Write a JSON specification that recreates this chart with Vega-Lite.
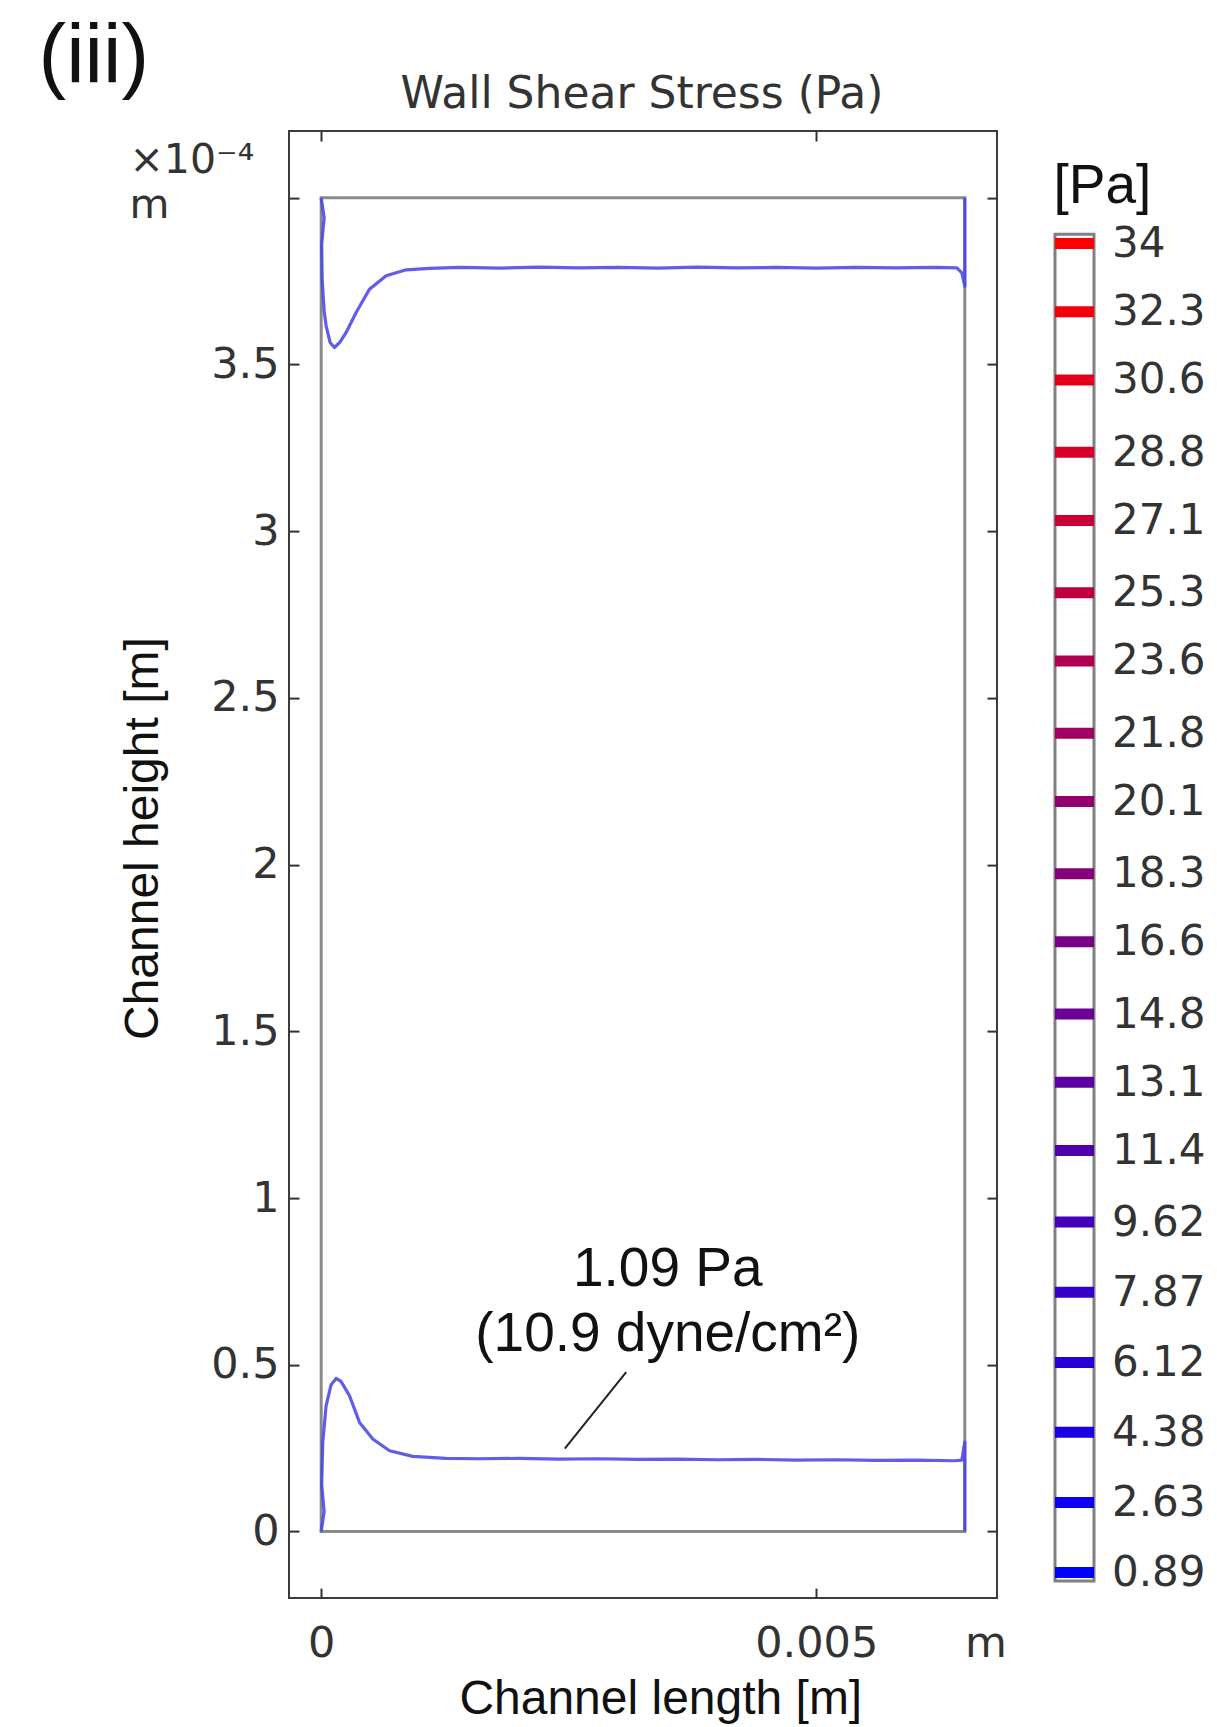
{
  "$schema": "https://vega.github.io/schema/vega-lite/v6.json",
  "background": "white",
  "padding": {"left": 37, "top": 15.1, "right": 10, "bottom": 4},
  "config": {"view": {"stroke": null}, "font": "DejaVu Sans"},
  "spacing": 45,
  "datasets": {
    "channel": [{"part": "channel", "inlet": 0, "outlet": 0.0065, "floor": 0, "ceiling": 4}],
    "wss": [
      {"wall": "top", "i": 0, "x": 0, "y": 4.0},
      {"wall": "top", "i": 1, "x": 0.00003, "y": 3.94},
      {"wall": "top", "i": 2, "x": 0.000005, "y": 3.86},
      {"wall": "top", "i": 3, "x": 0.00001, "y": 3.756},
      {"wall": "top", "i": 4, "x": 0.00003, "y": 3.66},
      {"wall": "top", "i": 5, "x": 0.00005, "y": 3.616},
      {"wall": "top", "i": 6, "x": 0.00009, "y": 3.566},
      {"wall": "top", "i": 7, "x": 0.000134, "y": 3.551},
      {"wall": "top", "i": 8, "x": 0.00019, "y": 3.567},
      {"wall": "top", "i": 9, "x": 0.000252, "y": 3.596},
      {"wall": "top", "i": 10, "x": 0.000353, "y": 3.656},
      {"wall": "top", "i": 11, "x": 0.000488, "y": 3.726},
      {"wall": "top", "i": 12, "x": 0.000656, "y": 3.766},
      {"wall": "top", "i": 13, "x": 0.000858, "y": 3.784},
      {"wall": "top", "i": 14, "x": 0.001094, "y": 3.788},
      {"wall": "top", "i": 15, "x": 0.0014, "y": 3.791},
      {"wall": "top", "i": 16, "x": 0.0018, "y": 3.789},
      {"wall": "top", "i": 17, "x": 0.0022, "y": 3.792},
      {"wall": "top", "i": 18, "x": 0.0026, "y": 3.790},
      {"wall": "top", "i": 19, "x": 0.003, "y": 3.791},
      {"wall": "top", "i": 20, "x": 0.0034, "y": 3.789},
      {"wall": "top", "i": 21, "x": 0.0038, "y": 3.792},
      {"wall": "top", "i": 22, "x": 0.0042, "y": 3.790},
      {"wall": "top", "i": 23, "x": 0.0046, "y": 3.791},
      {"wall": "top", "i": 24, "x": 0.005, "y": 3.789},
      {"wall": "top", "i": 25, "x": 0.0054, "y": 3.791},
      {"wall": "top", "i": 26, "x": 0.0058, "y": 3.790},
      {"wall": "top", "i": 27, "x": 0.0062, "y": 3.791},
      {"wall": "top", "i": 28, "x": 0.00642, "y": 3.790},
      {"wall": "top", "i": 29, "x": 0.00647, "y": 3.775},
      {"wall": "top", "i": 30, "x": 0.0065, "y": 3.735},
      {"wall": "top", "i": 31, "x": 0.0065, "y": 4.0},
      {"wall": "bottom", "i": 0, "x": 0, "y": 0},
      {"wall": "bottom", "i": 1, "x": 0.00003, "y": 0.06},
      {"wall": "bottom", "i": 2, "x": 0.000005, "y": 0.14},
      {"wall": "bottom", "i": 3, "x": 0.000016, "y": 0.268},
      {"wall": "bottom", "i": 4, "x": 0.00005, "y": 0.377},
      {"wall": "bottom", "i": 5, "x": 0.0001, "y": 0.44},
      {"wall": "bottom", "i": 6, "x": 0.000151, "y": 0.459},
      {"wall": "bottom", "i": 7, "x": 0.0002, "y": 0.45},
      {"wall": "bottom", "i": 8, "x": 0.000286, "y": 0.407},
      {"wall": "bottom", "i": 9, "x": 0.000387, "y": 0.327},
      {"wall": "bottom", "i": 10, "x": 0.000521, "y": 0.277},
      {"wall": "bottom", "i": 11, "x": 0.00069, "y": 0.242},
      {"wall": "bottom", "i": 12, "x": 0.000925, "y": 0.225},
      {"wall": "bottom", "i": 13, "x": 0.00126, "y": 0.219},
      {"wall": "bottom", "i": 14, "x": 0.0016, "y": 0.218},
      {"wall": "bottom", "i": 15, "x": 0.002, "y": 0.219},
      {"wall": "bottom", "i": 16, "x": 0.0024, "y": 0.217},
      {"wall": "bottom", "i": 17, "x": 0.0028, "y": 0.218},
      {"wall": "bottom", "i": 18, "x": 0.0032, "y": 0.216},
      {"wall": "bottom", "i": 19, "x": 0.0036, "y": 0.217},
      {"wall": "bottom", "i": 20, "x": 0.004, "y": 0.215},
      {"wall": "bottom", "i": 21, "x": 0.0044, "y": 0.216},
      {"wall": "bottom", "i": 22, "x": 0.0048, "y": 0.214},
      {"wall": "bottom", "i": 23, "x": 0.0052, "y": 0.215},
      {"wall": "bottom", "i": 24, "x": 0.0056, "y": 0.213},
      {"wall": "bottom", "i": 25, "x": 0.006, "y": 0.214},
      {"wall": "bottom", "i": 26, "x": 0.0064, "y": 0.212},
      {"wall": "bottom", "i": 27, "x": 0.00647, "y": 0.214},
      {"wall": "bottom", "i": 28, "x": 0.0065, "y": 0.268},
      {"wall": "bottom", "i": 29, "x": 0.0065, "y": 0}
    ],
    "leader": [{"x": 0.00308, "y": 0.478, "x2": 0.00246, "y2": 0.2485}],
    "note": [
      {"x": 0.0035, "y": 0.7367, "text": "1.09 Pa"},
      {"x": 0.0035, "y": 0.5417, "text": "(10.9 dyne/cm²)"}
    ],
    "levels": [
      {"level": 34}, {"level": 32.3}, {"level": 30.6}, {"level": 28.8}, {"level": 27.1},
      {"level": 25.3}, {"level": 23.6}, {"level": 21.8}, {"level": 20.1}, {"level": 18.3},
      {"level": 16.6}, {"level": 14.8}, {"level": 13.1}, {"level": 11.4}, {"level": 9.62},
      {"level": 7.87}, {"level": 6.12}, {"level": 4.38}, {"level": 2.63}, {"level": 0.89}
    ]
  },
  "hconcat": [
    {
      "width": 708,
      "height": 1467,
      "view": {"stroke": "#3c3c3c", "strokeWidth": 2},
      "title": {
        "text": "(iii)",
        "anchor": "start",
        "frame": "group",
        "font": "Liberation Sans",
        "fontSize": 83,
        "fontWeight": "normal",
        "color": "#111111",
        "baseline": "alphabetic",
        "offset": 0,
        "dx": -250.5,
        "dy": 93.6
      },
      "layer": [
        {
          "data": {"name": "channel"},
          "mark": {"type": "rect", "filled": false, "color": "#8a8a8a", "strokeWidth": 3},
          "encoding": {
            "x": {
              "field": "inlet", "type": "quantitative",
              "scale": {"domain": [-0.000325, 0.006825], "nice": false, "zero": false},
              "axis": {
                "orient": "bottom",
                "values": [0, 0.005, 0.006708],
                "format": "~g",
                "labelExpr": "datum.value > 0.006 ? 'm' : datum.label",
                "domain": false, "grid": false,
                "tickSize": -10, "tickWidth": 2, "tickColor": "#333333",
                "tickOpacity": {"condition": {"test": "datum.value > 0.006", "value": 0}, "value": 1},
                "labelFont": "DejaVu Sans", "labelFontSize": 43, "labelColor": "#333333",
                "labelPadding": 34, "labelFlush": false, "labelOverlap": false,
                "title": "Channel length [m]",
                "titleFont": "Liberation Sans", "titleFontSize": 48, "titleFontWeight": "normal", "titleColor": "#111111",
                "titleX": 371.3, "titleY": 115, "titleAlign": "center", "titleBaseline": "alphabetic", "titleAngle": 0
              }
            },
            "x2": {"field": "outlet"},
            "y": {
              "field": "floor", "type": "quantitative",
              "scale": {"domain": [-0.2, 4.2], "nice": false, "zero": false},
              "axis": {
                "orient": "left",
                "values": [0, 0.5, 1, 1.5, 2, 2.5, 3, 3.5, 4],
                "format": "~g",
                "labelExpr": "datum.value == 4 ? ['×10⁻⁴', 'm'] : datum.label",
                "domain": false, "grid": false,
                "tickSize": -10, "tickWidth": 2, "tickColor": "#333333",
                "labelFont": "DejaVu Sans",
                "labelFontSize": {"condition": {"test": "datum.value == 4", "value": 41}, "value": 43},
                "labelColor": "#333333",
                "labelAlign": {"condition": {"test": "datum.value == 4", "value": "left"}, "value": "right"},
                "labelBaseline": {"condition": {"test": "datum.value == 4", "value": "alphabetic"}, "value": "middle"},
                "labelOffset": {"condition": {"test": "datum.value == 4", "value": -25}, "value": 0},
                "labelPadding": {"condition": {"test": "datum.value == 4", "value": 170}, "value": 20},
                "labelLineHeight": 45,
                "labelOverlap": false, "labelFlush": false,
                "title": "Channel height [m]",
                "titleFont": "Liberation Sans", "titleFontSize": 48, "titleFontWeight": "normal", "titleColor": "#111111",
                "titleX": -145.3, "titleY": 707, "titleAlign": "center", "titleBaseline": "middle", "titleAngle": 270
              }
            },
            "y2": {"field": "ceiling"}
          }
        },
        {
          "data": {"name": "wss"},
          "mark": {"type": "line", "color": "#4848e8", "strokeWidth": 3.2, "opacity": 0.88, "strokeJoin": "round"},
          "encoding": {
            "x": {
              "field": "x", "type": "quantitative",
              "axis": {
                "orient": "top",
                "values": [0, 0.005],
                "labels": false, "domain": false, "grid": false,
                "tickSize": -10, "tickWidth": 2, "tickColor": "#333333",
                "title": "Wall Shear Stress (Pa)",
                "titleFont": "DejaVu Sans", "titleFontSize": 44, "titleFontWeight": "normal", "titleColor": "#333333",
                "titleX": 352.5, "titleY": -24, "titleAlign": "center", "titleBaseline": "alphabetic", "titleAngle": 0
              }
            },
            "y": {
              "field": "y", "type": "quantitative",
              "axis": {
                "orient": "right",
                "values": [0, 0.5, 1, 1.5, 2, 2.5, 3, 3.5, 4],
                "labels": false, "domain": false, "grid": false,
                "tickSize": -10, "tickWidth": 2, "tickColor": "#333333",
                "title": null
              }
            },
            "detail": {"field": "wall", "type": "nominal"},
            "order": {"field": "i", "type": "quantitative"}
          }
        },
        {
          "data": {"name": "leader"},
          "mark": {"type": "rule", "color": "#222222", "strokeWidth": 2},
          "encoding": {
            "x": {"field": "x", "type": "quantitative", "axis": null},
            "y": {"field": "y", "type": "quantitative", "axis": null},
            "x2": {"field": "x2"},
            "y2": {"field": "y2"}
          }
        },
        {
          "data": {"name": "note"},
          "mark": {"type": "text", "font": "Liberation Sans", "fontSize": 55, "color": "#111111", "align": "center", "baseline": "alphabetic"},
          "encoding": {
            "x": {"field": "x", "type": "quantitative", "axis": null},
            "y": {"field": "y", "type": "quantitative", "axis": null},
            "text": {"field": "text", "type": "nominal"}
          }
        }
      ],
      "resolve": {"axis": {"x": "independent", "y": "independent"}}
    },
    {
      "width": 39,
      "height": 1467,
      "data": {"name": "levels"},
      "layer": [
        {
          "transform": [{"filter": "datum.level == 34"}],
          "mark": {"type": "rect", "fill": "white", "stroke": "#808080", "strokeWidth": 3},
          "encoding": {
            "x": {"datum": 0, "type": "quantitative", "scale": {"domain": [0, 1], "nice": false, "zero": false}, "axis": null},
            "x2": {"datum": 1},
            "y": {
              "datum": 0.673, "type": "quantitative",
              "scale": {"domain": [0.25, 36.8], "nice": false, "zero": false},
              "axis": {
                "orient": "right",
                "values": [34, 32.3, 30.6, 28.8, 27.1, 25.3, 23.6, 21.8, 20.1, 18.3, 16.6, 14.8, 13.1, 11.4, 9.62, 7.87, 6.12, 4.38, 2.63, 0.89],
                "format": ".3~r",
                "domain": false, "ticks": false, "grid": false,
                "labelPadding": 17.5, "labelFont": "DejaVu Sans", "labelFontSize": 42, "labelColor": "#333333",
                "labelBaseline": "middle", "labelAlign": "left", "labelOverlap": false, "labelFlush": false,
                "title": "[Pa]",
                "titleFont": "Liberation Sans", "titleFontSize": 55, "titleFontWeight": "normal", "titleColor": "#111111",
                "titleAngle": 0, "titleAlign": "left", "titleBaseline": "alphabetic", "titleX": -41, "titleY": 71
              }
            },
            "y2": {"datum": 34.232}
          }
        },
        {
          "mark": {"type": "tick", "orient": "horizontal", "size": 39, "thickness": 11, "opacity": 1},
          "encoding": {
            "x": {"datum": 0.5, "type": "quantitative"},
            "y": {"field": "level", "type": "quantitative", "scale": {"domain": [0.25, 36.8], "nice": false, "zero": false}},
            "color": {
              "field": "level", "type": "quantitative",
              "scale": {"domain": [0.89, 34], "range": ["#0000ff", "#ff0000"], "interpolate": "rgb"},
              "legend": null
            }
          }
        }
      ]
    }
  ]
}
